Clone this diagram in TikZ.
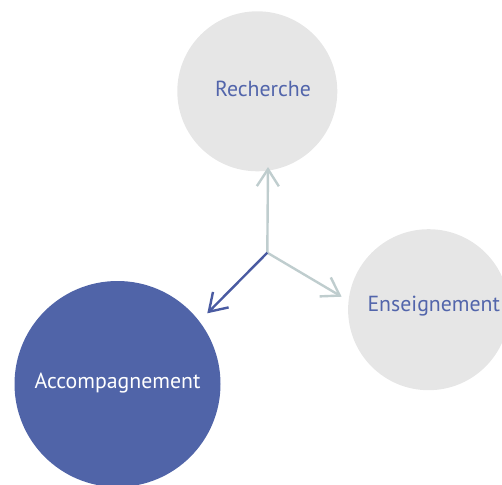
\documentclass[tikz,border=0pt]{standalone}
\usepackage{fontspec}
\setmainfont{PT Sans}
\usetikzlibrary{arrows.meta}
\definecolor{bubblegray}{HTML}{E6E6E6}
\definecolor{bubbleblue}{HTML}{5064A8}
\definecolor{textblue}{HTML}{5265AB}
\definecolor{arrowgray}{HTML}{BFCDCE}
\definecolor{arrowblue}{HTML}{4A5BA2}
\tikzset{
  bubble/.style={circle, inner sep=0pt},
  label text/.style={font=\fontsize{21.8}{26}\selectfont},
  grayarrow/.style={draw=arrowgray, line width=2.4pt, -{Straight Barb[length=17pt,width=22pt,line width=2.4pt]}},
  bluearrow/.style={draw=arrowblue, line width=2.4pt, -{Straight Barb[length=17pt,width=22pt,line width=2.4pt]}}
}
\begin{document}
\begin{tikzpicture}[x=1pt,y=-1pt]
\useasboundingbox (0,0) rectangle (502,484);
\clip (0,0) rectangle (502,484);
\node[bubble, fill=bubblegray, minimum size=160pt] (R) at (257.3,91.3) {};
\node[bubble, fill=bubblegray, minimum size=161pt] (E) at (428.6,309.7) {};
\node[bubble, fill=bubbleblue, minimum size=206pt] (A) at (117.5,384) {};

\node[label text, text=textblue] (Rt) at (263,89) {Recherche};
\node[label text, text=textblue] (Et) at (433.8,306) {Enseignement};
\node[label text, text=white] (At) at (117.5,383) {Accompagnement};

\coordinate (O) at (267.3,252.7);
\coordinate (toR) at (268,167);
\coordinate (toE) at (341.7,296.7);
\coordinate (toA) at (207.3,313.3);

\draw[grayarrow] (O) -- (toR);
\draw[grayarrow] (O) -- (toE);
\draw[bluearrow] (O) -- (toA);
\end{tikzpicture}
\end{document}
